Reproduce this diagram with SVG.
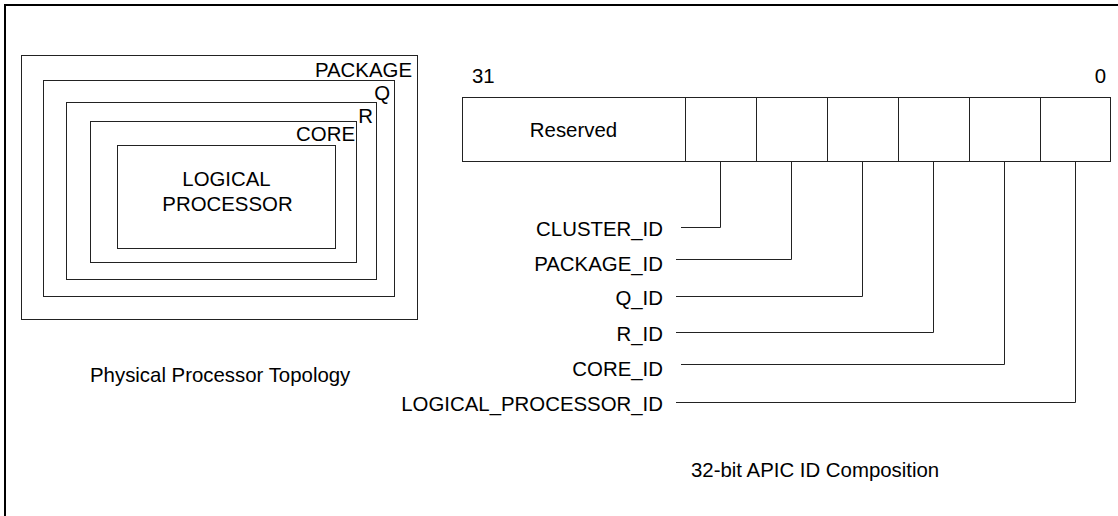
<svg xmlns="http://www.w3.org/2000/svg" width="1118" height="516" viewBox="0 0 1118 516">
<style>
  .t { font-family: "Liberation Sans", Arial, sans-serif; font-size: 20.4px; fill: #000; }
  .box { fill: none; stroke: #222; stroke-width: 1; }
  .ln { fill: none; stroke: #222; stroke-width: 1; }
</style>
<rect width="1118" height="516" fill="#fff"/>
<path id="frame" d="M5,516 V5 H1118" fill="none" stroke="#000" stroke-width="2"/>

<g id="topology">
  <g id="package"><rect class="box" x="21.5" y="55.5" width="396" height="264"/><text class="t" x="412" y="77" text-anchor="end">PACKAGE</text></g>
  <g id="q"><rect class="box" x="43.5" y="80.5" width="351" height="216"/><text class="t" x="390" y="99.5" text-anchor="end">Q</text></g>
  <g id="r"><rect class="box" x="66.5" y="102.5" width="310" height="177"/><text class="t" x="373" y="122.5" text-anchor="end">R</text></g>
  <g id="core"><rect class="box" x="90.5" y="121.5" width="266" height="141"/><text class="t" x="355" y="141" text-anchor="end">CORE</text></g>
  <g id="logical"><rect class="box" x="117.5" y="145.5" width="218" height="103"/>
    <text class="t" x="226.5" y="186" text-anchor="middle">LOGICAL</text>
    <text class="t" x="227.5" y="211" text-anchor="middle">PROCESSOR</text></g>
  <text id="topo-caption" class="t" x="90" y="382">Physical Processor Topology</text>
</g>

<g id="register">
  <text class="t" x="472" y="83">31</text>
  <text class="t" x="1106" y="83" text-anchor="end">0</text>
  <g id="reserved"><rect class="box" x="462.5" y="97.5" width="223" height="64"/><text class="t" x="573.5" y="137" text-anchor="middle">Reserved</text></g>
  <g id="f-cluster"><rect class="box" x="685.5" y="97.5" width="71" height="64"/></g>
  <g id="f-package"><rect class="box" x="756.5" y="97.5" width="71" height="64"/></g>
  <g id="f-q"><rect class="box" x="827.5" y="97.5" width="71" height="64"/></g>
  <g id="f-r"><rect class="box" x="898.5" y="97.5" width="71" height="64"/></g>
  <g id="f-core"><rect class="box" x="969.5" y="97.5" width="71" height="64"/></g>
  <g id="f-logical"><rect class="box" x="1040.5" y="97.5" width="70" height="64"/></g>
</g>

<g id="labels">
  <text class="t" x="663" y="236" text-anchor="end">CLUSTER_ID</text>
  <text class="t" x="663" y="271" text-anchor="end">PACKAGE_ID</text>
  <text class="t" x="663" y="305" text-anchor="end">Q_ID</text>
  <text class="t" x="663" y="341" text-anchor="end">R_ID</text>
  <text class="t" x="663" y="376" text-anchor="end">CORE_ID</text>
  <text class="t" x="663" y="411" text-anchor="end">LOGICAL_PROCESSOR_ID</text>
  <text id="apic-caption" class="t" x="691" y="477">32-bit APIC ID Composition</text>
</g>

<g id="connectors">
  <path class="ln" d="M681,227.5 H720.5 V161.5"/>
  <path class="ln" d="M676,259.5 H791.5 V161.5"/>
  <path class="ln" d="M676,296.5 H862.5 V161.5"/>
  <path class="ln" d="M676,332.5 H933.5 V161.5"/>
  <path class="ln" d="M681,364.5 H1004.5 V161.5"/>
  <path class="ln" d="M676,402.5 H1075.5 V161.5"/>
</g>
</svg>
